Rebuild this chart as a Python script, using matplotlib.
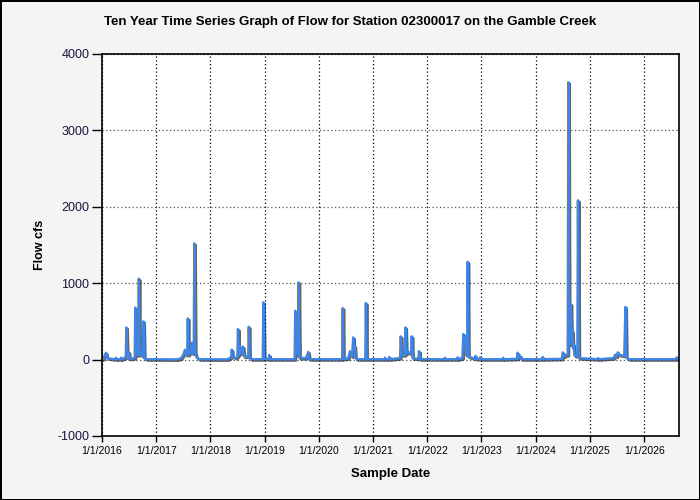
import matplotlib
matplotlib.use("Agg")
import matplotlib.pyplot as plt
import matplotlib.patheffects as pe
import pandas as pd

# flow readings for station 02300017
dates = [
    "2016-01-01", "2016-01-10", "2016-01-14", "2016-01-28", "2016-02-04",
    "2016-03-05", "2016-04-01", "2016-04-04", "2016-04-08", "2016-05-05",
    "2016-05-08", "2016-05-12", "2016-06-09", "2016-06-13", "2016-06-18",
    "2016-06-25", "2016-06-29", "2016-07-04", "2016-08-08", "2016-08-12",
    "2016-08-16", "2016-08-31", "2016-09-05", "2016-09-10", "2016-09-17",
    "2016-09-30", "2016-10-06", "2016-10-11", "2016-10-25", "2017-05-26",
    "2017-06-17", "2017-07-03", "2017-07-13", "2017-07-20", "2017-07-28",
    "2017-08-01", "2017-08-06", "2017-08-13", "2017-08-25", "2017-08-28",
    "2017-09-02", "2017-09-10", "2017-09-14", "2017-09-19", "2017-09-29",
    "2017-10-15", "2018-04-25", "2018-05-20", "2018-05-24", "2018-05-30",
    "2018-06-22", "2018-07-01", "2018-07-05", "2018-07-10", "2018-07-19",
    "2018-07-28", "2018-08-07", "2018-08-15", "2018-09-12", "2018-09-16",
    "2018-09-21", "2018-10-01", "2018-12-19", "2018-12-23", "2018-12-28",
    "2019-01-28", "2019-01-31", "2019-02-05", "2019-07-22", "2019-07-26",
    "2019-07-31", "2019-08-10", "2019-08-14", "2019-08-18", "2019-08-23",
    "2019-10-07", "2019-10-22", "2019-10-28", "2020-06-06", "2020-06-10",
    "2020-06-14", "2020-07-16", "2020-07-29", "2020-08-11", "2020-08-20",
    "2020-08-25", "2020-08-29", "2020-09-04", "2020-09-12", "2020-11-09",
    "2020-11-13", "2020-11-17", "2021-03-18", "2021-03-22", "2021-03-26",
    "2021-04-16", "2021-04-20", "2021-04-26", "2021-07-01", "2021-07-06",
    "2021-07-12", "2021-08-03", "2021-08-07", "2021-08-12", "2021-08-27",
    "2021-09-03", "2021-09-14", "2021-09-18", "2021-09-23", "2021-11-02",
    "2021-11-06", "2021-11-11", "2022-04-27", "2022-04-30", "2022-05-04",
    "2022-07-20", "2022-07-24", "2022-07-28", "2022-08-25", "2022-09-01",
    "2022-09-06", "2022-09-10", "2022-09-18", "2022-09-27", "2022-09-30",
    "2022-10-04", "2022-11-17", "2022-11-21", "2022-11-26", "2022-12-21",
    "2022-12-24", "2022-12-28", "2023-05-25", "2023-05-28", "2023-06-01",
    "2023-08-28", "2023-09-01", "2023-09-06", "2023-09-19", "2023-09-25",
    "2024-02-14", "2024-02-17", "2024-02-21", "2024-06-25", "2024-07-02",
    "2024-07-11", "2024-07-21", "2024-08-04", "2024-08-08", "2024-08-13",
    "2024-08-18", "2024-08-24", "2024-08-30", "2024-09-04", "2024-09-08",
    "2024-09-12", "2024-09-19", "2024-10-08", "2024-10-12", "2024-10-17",
    "2025-02-22", "2025-02-26", "2025-03-03", "2025-06-10", "2025-06-19",
    "2025-06-30", "2025-07-07", "2025-07-21", "2025-08-20", "2025-08-28",
    "2025-09-02", "2025-09-20", "2026-08-04", "2026-08-08", "2026-08-16",
]
flow = [
    5, 10, 40, 90, 20,
    10, 5, 25, 5, 5,
    25, 5, 30, 420, 40,
    20, 100, 10, 20, 680,
    60, 60, 1060, 60, 90,
    40, 500, 20, 5, 3,
    20, 70, 130, 60, 80,
    540, 60, 100, 90, 220,
    80, 80, 1520, 100, 30,
    5, 3, 30, 130, 40,
    20, 40, 400, 60, 170,
    80, 170, 40, 40, 430,
    20, 5, 5, 750, 10,
    5, 60, 5, 5, 640,
    60, 150, 150, 1010, 20,
    20, 100, 5, 5, 675,
    10, 15, 110, 40, 290,
    120, 175, 20, 5, 5,
    740, 5, 5, 25, 5,
    5, 35, 5, 20, 305,
    60, 60, 420, 80, 105,
    80, 80, 305, 20, 10,
    110, 5, 5, 25, 5,
    5, 30, 5, 20, 335,
    280, 305, 60, 60, 1280,
    40, 10, 50, 10, 5,
    30, 5, 5, 25, 5,
    10, 90, 20, 50, 5,
    5, 35, 5, 10, 95,
    40, 60, 60, 3630, 200,
    200, 730, 250, 370, 150,
    195, 50, 50, 2085, 20,
    5, 20, 5, 20, 65,
    40, 95, 60, 50, 690,
    30, 5, 5, 30, 10,
]

tick_years = list(range(2016, 2027))
tick_labels = ["1/1/%d" % y for y in tick_years]
y_ticks = [-1000, 0, 1000, 2000, 3000, 4000]

x = pd.to_datetime(dates)

fig = plt.figure(figsize=(7, 5), dpi=100, facecolor='#f4f4f4')
fig.patch.set_edgecolor('black')
fig.patch.set_linewidth(2)
ax = fig.add_axes([102 / 700, 64 / 500, 577 / 700, 382 / 500])
ax.set_facecolor('white')

ax.plot(x, flow, color='#3f86e4', linewidth=1.7,
        path_effects=[pe.SimpleLineShadow(offset=(1, -1), shadow_color='#222222', alpha=0.7),
                      pe.Normal()])

ax.set_xlim(pd.Timestamp("2016-01-01"), pd.Timestamp("2026-08-24"))
ax.set_ylim(-1000, 4000)

ax.set_xticks(pd.to_datetime(["%d-01-01" % y for y in tick_years]))
ax.set_xticklabels(tick_labels, family='Liberation Sans', fontsize=7.5)
ax.set_yticks(y_ticks)
ax.set_yticklabels([str(v) for v in y_ticks], family='Liberation Sans', fontsize=9, color='#1a1440')
ax.tick_params(axis='y', direction='out', length=7, width=1, color='black', pad=2)
ax.tick_params(axis='x', direction='out', length=4, width=1, color='black', pad=3)

ax.xaxis.grid(True, linestyle=(0, (1, 2)), color='black', linewidth=0.9)
ax.yaxis.grid(True, linestyle=(0, (1, 2)), color='#555555', linewidth=0.9)

for s in ax.spines.values():
    s.set_linewidth(1.2)
    s.set_color('black')

ax.set_xlabel("Sample Date", family='Liberation Sans',
              fontsize=9.5, fontweight='bold', labelpad=9)
ax.set_ylabel("Flow cfs", family='Liberation Sans',
              fontsize=9, fontweight='bold', labelpad=8)
fig.text(0.5, 1 - 22 / 500, "Ten Year Time Series Graph of Flow for Station 02300017 on the Gamble Creek",
         ha='center', va='center', family='Liberation Sans', fontsize=9.5, fontweight='bold')

fig.savefig("out.png", dpi=100, facecolor=fig.get_facecolor(), edgecolor=fig.get_edgecolor())
